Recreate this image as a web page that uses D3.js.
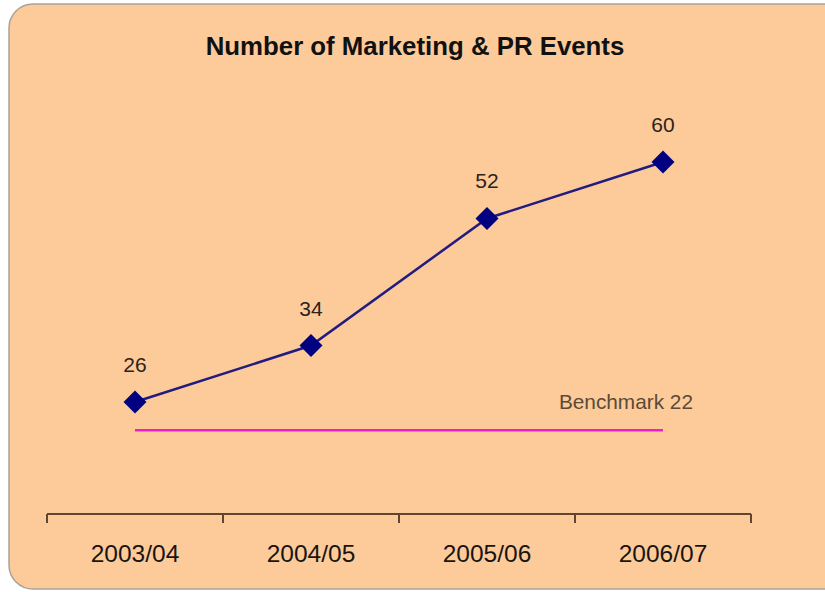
<!DOCTYPE html>
<html>
<head>
<meta charset="utf-8">
<script src="https://cdn.jsdelivr.net/npm/d3@7"></script>
<style>
  body { margin: 0; background: #fff; }
  svg { display: block; font-family: Arial, "Liberation Sans", sans-serif; }
</style>
</head>
<body>
<svg width="825" height="592"></svg>
<script>
const title = "Number of Marketing & PR Events";
const years = ["2003/04", "2004/05", "2005/06", "2006/07"];
const events = [26, 34, 52, 60];
const benchmark = 22;
const benchmarkLabel = "Benchmark 22";

let svg = d3.select("svg");

// panel background, runs off the right edge like the original
svg.append("rect")
    .attr("x", 9).attr("y", 4)
    .attr("width", 860).attr("height", 585)
    .attr("rx", 24)
    .attr("fill", "#FDCB99")
    .attr("stroke", "#a9a29b")
    .attr("stroke-width", 1.5);

svg.append("text")
    .attr("x", 415).attr("y", 55)
    .attr("text-anchor", "middle")
    .attr("font-size", "25.8px")
    .attr("font-weight", "bold")
    .attr("fill", "#111")
    .text(title);

let x = d3.scaleBand()
    .domain(years)
    .range([47, 751]);

let y = d3.scaleLinear()
    .domain([10, 60])
    .range([515, 162]);

let cx = d => x(d) + x.bandwidth() / 2;

// x axis: line with ticks at band edges, labels centred
let axisY = y(10) - 1;
let ax = svg.append("g").attr("transform", `translate(0,${axisY})`);
ax.call(d3.axisBottom(x).tickSize(0).tickPadding(0))
    .call(g => g.select(".domain").remove())
    .selectAll("text")
    .attr("font-size", "24.5px")
    .attr("fill", "#1a1410")
    .attr("dy", null)
    .attr("y", 48);

let edges = years.map(d => x(d)).concat([x(years[years.length - 1]) + x.bandwidth()]);
ax.append("line")
    .attr("x1", edges[0]).attr("x2", edges[edges.length - 1])
    .attr("stroke", "#5e4630").attr("stroke-width", 2);
ax.selectAll(".edge")
    .data(edges)
    .join("line")
    .attr("class", "edge")
    .attr("x1", d => d).attr("x2", d => d)
    .attr("y1", 0).attr("y2", 9)
    .attr("stroke", "#5e4630").attr("stroke-width", 2);

// benchmark line
svg.append("line")
    .attr("x1", cx(years[0])).attr("x2", cx(years[years.length - 1]))
    .attr("y1", y(benchmark)).attr("y2", y(benchmark))
    .attr("stroke", "#EE1ECF")
    .attr("stroke-width", 2.5);

svg.append("text")
    .attr("x", 693).attr("y", y(benchmark) - 21)
    .attr("text-anchor", "end")
    .attr("font-size", "20.8px")
    .attr("fill", "#5b4a38")
    .text(benchmarkLabel);

// series
let pts = years.map((d, i) => ({ year: d, v: events[i] }));

let line = d3.line()
    .x(d => cx(d.year))
    .y(d => y(d.v));

svg.append("path")
    .datum(pts)
    .attr("d", line)
    .attr("fill", "none")
    .attr("stroke", "#231C80")
    .attr("stroke-width", 2.5);

svg.selectAll(".mark")
    .data(pts)
    .join("path")
    .attr("class", "mark")
    .attr("d", d3.symbol().type(d3.symbolSquare).size(265))
    .attr("transform", d => `translate(${cx(d.year)},${y(d.v)}) rotate(45)`)
    .attr("fill", "#000080");

svg.selectAll(".val")
    .data(pts)
    .join("text")
    .attr("class", "val")
    .attr("x", d => cx(d.year))
    .attr("y", d => y(d.v) - 30)
    .attr("text-anchor", "middle")
    .attr("font-size", "21px")
    .attr("fill", "#2b231c")
    .text(d => d.v);
</script>
</body>
</html>
